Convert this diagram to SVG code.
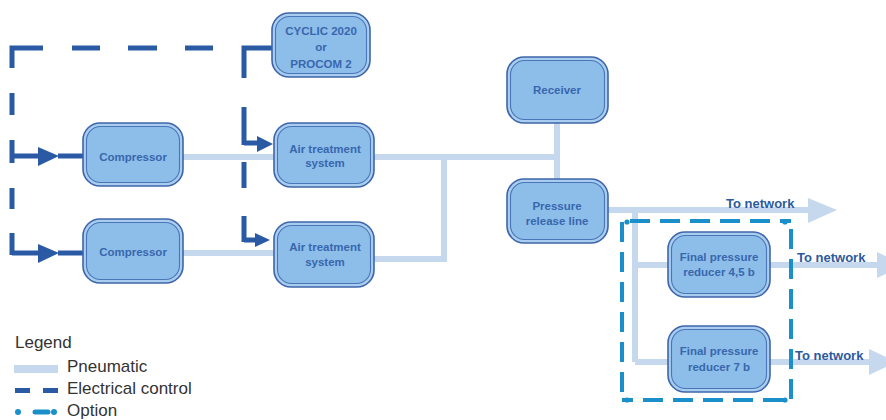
<svg xmlns="http://www.w3.org/2000/svg" width="886" height="420" viewBox="0 0 886 420">
<defs>
<style>
.outer{fill:#a9cdee;stroke:#3e66aa;stroke-width:1.6}
.inner{fill:#8dbde9;stroke:#4a76b8;stroke-width:1.1}
.nt{font-family:"Liberation Sans",Arial,sans-serif;font-weight:bold;font-size:11.5px;fill:#3867ad;text-anchor:middle}
.pn{fill:none;stroke:#c6d8ee;stroke-width:6}
.pnh{fill:#c6d8ee}
.el{fill:none;stroke:#2b5aa5;stroke-width:5}
.elh{fill:#2b5aa5}
.op{fill:none;stroke:#1a8fc9;stroke-width:4;stroke-dasharray:20 10;stroke-dashoffset:22}
.opd{fill:#1a8fc9}
.tn{font-family:"Liberation Sans",Arial,sans-serif;font-weight:bold;font-size:13px;fill:#2c5a9e}
.lg{font-family:"Liberation Sans",Arial,sans-serif;font-size:17px;fill:#333333}
</style>
</defs>
<rect width="886" height="420" fill="#ffffff"/>

<g id="connectors">
  <path class="pn" d="M183,157 H274"/>
  <path class="pn" d="M374,157 H557"/>
  <path class="pn" d="M557,123 V179"/>
  <path class="pn" d="M183,253 H274"/>
  <path class="pn" d="M374,259 H444 V157"/>
  <path class="pn" d="M608,210 H808"/>
  <polygon class="pnh" points="808,198 837,210 808,223"/>
  <path class="pn" d="M635,210 V362"/>
  <path class="pn" d="M635,265 H668"/>
  <path class="pn" d="M635,362 H668"/>
  <path class="pn" d="M770,265 H877"/>
  <polygon class="pnh" points="877,252 905,265 877,278"/>
  <path class="pn" d="M770,362 H869"/>
  <polygon class="pnh" points="869,349 897,362 869,375"/>
  <path class="el" d="M43,48 H12 V68"/>
  <path class="el" d="M72,48 H100 M128,48 H157 M185,48 H213"/>
  <path class="el" d="M12,93 V115"/>
  <path class="el" d="M12,140 V163 M12,156 H38"/>
  <polygon class="elh" points="38,147 59,156 38,166"/>
  <path class="el" d="M58,156 H83"/>
  <path class="el" d="M12,188 V209"/>
  <path class="el" d="M12,233 V255 M12,253 H38"/>
  <polygon class="elh" points="38,244 59,253 38,263"/>
  <path class="el" d="M58,253 H83"/>
  <path class="el" d="M272,48 H244 V78"/>
  <path class="el" d="M244,107 V145 M244,143 H258"/>
  <polygon class="elh" points="257,136 273,144 257,152"/>
  <path class="el" d="M244,162 V188"/>
  <path class="el" d="M244,216 V242 M244,240 H256"/>
  <polygon class="elh" points="255,233 270,240 255,247"/>
  <path class="op" d="M622,221 H791"/>
  <path class="op" d="M791,221 V400"/>
  <path class="op" d="M791,400 H622"/>
  <path class="op" d="M622,400 V221"/>
  <circle class="opd" cx="627" cy="222" r="2.6"/>
  <circle class="opd" cx="785" cy="222" r="2.6"/>
  <circle class="opd" cx="627" cy="400" r="2.6"/>
  <circle class="opd" cx="785" cy="400" r="2.6"/>
</g>

<g id="cyclic">
  <rect class="outer" x="272" y="13" width="98" height="64" rx="17"/>
  <rect class="inner" x="275.5" y="16.5" width="91" height="57" rx="14"/>
  <text class="nt" x="321" y="35">CYCLIC 2020</text>
  <text class="nt" x="321" y="51">or</text>
  <text class="nt" x="321" y="68">PROCOM 2</text>
</g>
<g id="compressor1">
  <rect class="outer" x="83" y="123" width="100" height="63" rx="17"/>
  <rect class="inner" x="86.5" y="126.5" width="93" height="56" rx="14"/>
  <text class="nt" x="133" y="161">Compressor</text>
</g>
<g id="compressor2">
  <rect class="outer" x="83" y="219" width="100" height="64" rx="17"/>
  <rect class="inner" x="86.5" y="222.5" width="93" height="57" rx="14"/>
  <text class="nt" x="133" y="256">Compressor</text>
</g>
<g id="air1">
  <rect class="outer" x="274" y="123" width="100" height="64" rx="17"/>
  <rect class="inner" x="277.5" y="126.5" width="93" height="57" rx="14"/>
  <text class="nt" x="325" y="153">Air treatment</text>
  <text class="nt" x="325" y="167">system</text>
</g>
<g id="air2">
  <rect class="outer" x="274" y="222" width="100" height="65" rx="17"/>
  <rect class="inner" x="277.5" y="225.5" width="93" height="58" rx="14"/>
  <text class="nt" x="325" y="251">Air treatment</text>
  <text class="nt" x="325" y="266">system</text>
</g>
<g id="receiver">
  <rect class="outer" x="507" y="57" width="101" height="66" rx="17"/>
  <rect class="inner" x="510.5" y="60.5" width="94" height="59" rx="14"/>
  <text class="nt" x="557" y="94">Receiver</text>
</g>
<g id="pressure">
  <rect class="outer" x="507" y="179" width="101" height="64" rx="17"/>
  <rect class="inner" x="510.5" y="182.5" width="94" height="57" rx="14"/>
  <text class="nt" x="557" y="210">Pressure</text>
  <text class="nt" x="557" y="225">release line</text>
</g>
<g id="reducer45">
  <rect class="outer" x="668" y="232" width="102" height="65" rx="17"/>
  <rect class="inner" x="671.5" y="235.5" width="95" height="58" rx="14"/>
  <text class="nt" x="719" y="261">Final pressure</text>
  <text class="nt" x="719" y="276">reducer 4,5 b</text>
</g>
<g id="reducer7">
  <rect class="outer" x="668" y="326" width="102" height="66" rx="17"/>
  <rect class="inner" x="671.5" y="329.5" width="95" height="59" rx="14"/>
  <text class="nt" x="719" y="355">Final pressure</text>
  <text class="nt" x="719" y="371">reducer 7 b</text>
</g>

<g id="labels">
  <text class="tn" x="726" y="208">To network</text>
  <text class="tn" x="797" y="262">To network</text>
  <text class="tn" x="795" y="360">To network</text>
</g>

<g id="legend">
  <text class="lg" x="15" y="348">Legend</text>
  <rect x="14" y="365" width="44" height="8" fill="#c6d8ee"/>
  <text class="lg" x="67" y="372">Pneumatic</text>
  <rect x="15" y="388" width="15" height="5" fill="#2b5aa5"/>
  <rect x="43" y="388" width="15" height="5" fill="#2b5aa5"/>
  <text class="lg" x="67" y="394">Electrical control</text>
  <circle class="opd" cx="18" cy="412" r="3"/>
  <path d="M35,412 H48" stroke="#1a8fc9" stroke-width="5" stroke-linecap="round" fill="none"/>
  <circle class="opd" cx="54" cy="412" r="3"/>
  <text class="lg" x="67" y="416">Option</text>
</g>
</svg>
